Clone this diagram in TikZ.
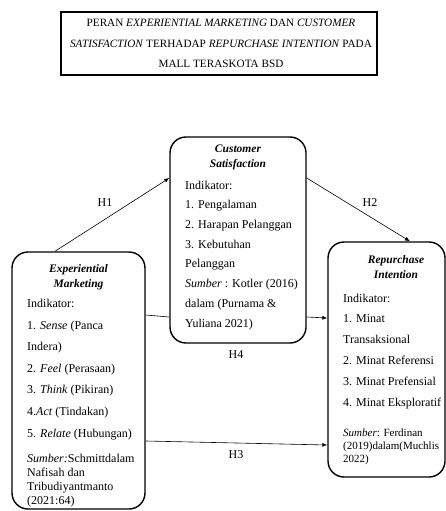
\documentclass[tikz,border=0pt]{standalone}
\usepackage{fontspec}
\setmainfont{Liberation Serif}
\usetikzlibrary{arrows.meta}
\begin{document}
\begin{tikzpicture}[x=1pt,y=-1pt,
  kotak/.style={draw, line width=1.4pt, rounded corners=16pt, inner sep=0pt},
  judul/.style={font=\fontsize{11.5}{15}\selectfont\bfseries\itshape, align=center, inner sep=0pt, anchor=base},
  isi/.style={font=\fontsize{12}{20.5}\selectfont, align=left, anchor=base west, inner sep=0pt},
  sumber/.style={font=\fontsize{12}{13.7}\selectfont, align=left, anchor=base west, inner sep=0pt},
  panah/.style={-{Latex[length=5pt,width=4pt]}, line width=0.6pt},
  hip/.style={font=\fontsize{12}{14}\selectfont, inner sep=0pt}]
\useasboundingbox (0,0) rectangle (446,511);
\node[draw, line width=1.6pt, minimum width=316, minimum height=63, inner sep=0pt] (title) at (219,43.5){};
\node[font=\fontsize{11.2}{20}\selectfont, align=center, anchor=base, inner sep=0pt] (titletext) at (221,67){PERAN \textit{EXPERIENTIAL MARKETING} DAN \textit{CUSTOMER}\\
\textit{SATISFACTION} TERHADAP \textit{REPURCHASE INTENTION} PADA\\
MALL TERASKOTA BSD};
\node[kotak, minimum width=136, minimum height=206] (cs) at (238,240){};
\node[judul] (csh) at (238,167){Customer\\Satisfaction};
\node[isi, font=\fontsize{12}{19.7}\selectfont] (csb) at (185,327){Indikator:\\
1. Pengalaman\\
2. Harapan Pelanggan\\
3. Kebutuhan\\
Pelanggan\\
\textit{Sumber} : Kotler (2016)\\
dalam (Purnama \&\\
Yuliana 2021)};
\node[kotak, minimum width=133, minimum height=257] (em) at (78.5,380.5){};
\node[judul] (emh) at (78.5,287){Experiential\\Marketing};
\node[isi, font=\fontsize{12}{21.6}\selectfont] (emb) at (27,437){Indikator:\\
1. \textit{Sense} (Panca\\
Indera)\\
2. \textit{Feel} (Perasaan)\\
3. \textit{Think} (Pikiran)\\
4.\textit{Act} (Tindakan)\\
5. \textit{Relate} (Hubungan)};
\node[sumber] (ems) at (27,504){\textit{Sumber:}Schmittdalam\\
Nafisah dan\\
Tribudiyantmanto\\
(2021:64)};
\node[kotak, minimum width=117, minimum height=235] (ri) at (386.5,359.5){};
\node[judul] (rih) at (396,278){Repurchase\\Intention};
\node[isi, font=\fontsize{12}{20.8}\selectfont] (rib) at (343,406){Indikator:\\
1. Minat\\
Transaksional\\
2. Minat Referensi\\
3. Minat Prefensial\\
4. Minat Eksploratif};
\node[sumber, font=\fontsize{11}{13}\selectfont] (ris) at (343,462){\textit{Sumber}: Ferdinan\\
(2019)dalam(Muchlis\\
2022)};
\draw[panah] ([xshift=-23.5pt]em.north) -- ([yshift=62pt]cs.west);
\draw[panah] ([yshift=62pt]cs.east) -- ([xshift=23.5pt]ri.north);
\draw[line width=0.6pt] ([yshift=65.5pt]em.east) -- ([yshift=-77pt]cs.west);
\draw[panah] ([yshift=-77pt]cs.east) -- ([yshift=41.5pt]ri.west);
\draw[panah] ([yshift=-60.5pt]em.east) -- ([yshift=-85.5pt]ri.west);
\node[hip] (h1) at (105,203){H1};
\node[hip] (h2) at (370,203){H2};
\node[hip] (h4) at (236,355){H4};
\node[hip] (h3) at (236,455){H3};
\end{tikzpicture}
\end{document}
